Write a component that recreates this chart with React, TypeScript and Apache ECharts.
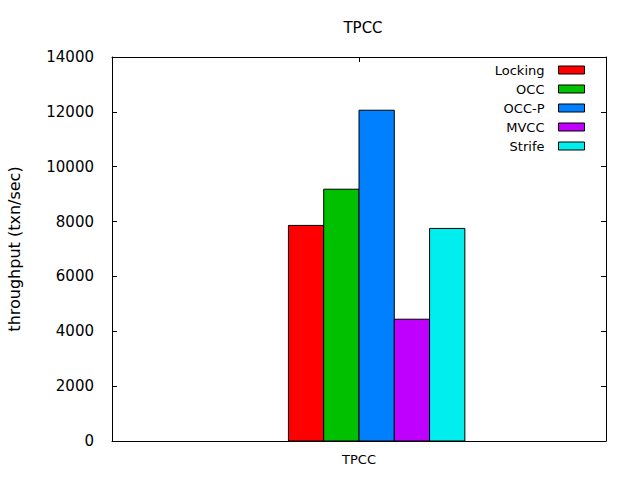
import React, { useEffect, useRef } from "react";
import * as echarts from "echarts";

const categories = ["TPCC"];
const seriesNames = ["Locking", "OCC", "OCC-P", "MVCC", "Strife"];
const seriesColors = ["#ff0000", "#00c000", "#0080ff", "#c000ff", "#00eeee"];
const lockingValues = [7860];
const occValues = [9180];
const occpValues = [12060];
const mvccValues = [4440];
const strifeValues = [7750];
const yTicks = [0, 2000, 4000, 6000, 8000, 10000, 12000, 14000];

const allValues = [lockingValues, occValues, occpValues, mvccValues, strifeValues];
const FONT = "DejaVu Sans";

export default function App() {
  const ref = useRef<HTMLDivElement>(null);
  useEffect(() => {
    if (!ref.current) return;
    const chart = echarts.init(ref.current, null, { renderer: "svg" });
    const n = seriesNames.length;
    const boxW = 1 / (n + 2);
    const series = seriesNames.map((name, j) => ({
      name,
      type: "custom",
      xAxisIndex: 0,
      yAxisIndex: 0,
      itemStyle: { color: seriesColors[j], borderColor: "#000", borderWidth: 1 },
      data: allValues[j].map((v, i) => [i + (j - 1.5) * boxW, v]),
      renderItem: (params: any, api: any) => {
        const x = api.value(0);
        const y = api.value(1);
        const p0 = api.coord([x - boxW / 2, y]);
        const p1 = api.coord([x + boxW / 2, 0]);
        return {
          type: "rect",
          shape: { x: p0[0], y: p0[1], width: p1[0] - p0[0], height: p1[1] - p0[1] },
          style: { fill: seriesColors[j], stroke: "#000", lineWidth: 1 },
        };
      },
    }));
    const axisCommon = {
      axisLine: { show: true, onZero: false, lineStyle: { color: "#000", width: 1 } },
      axisTick: { show: true, inside: true, length: 5, lineStyle: { color: "#000" } },
      splitLine: { show: false },
    };
    chart.setOption({
      animation: false,
      backgroundColor: "#fff",
      title: {
        text: "TPCC",
        left: 358,
        top: 15,
        textAlign: "center",
        textStyle: { fontFamily: FONT, fontSize: 15, fontWeight: "normal", color: "#000" },
      },
      legend: {
        data: seriesNames,
        orient: "vertical",
        right: 50,
        top: 58,
        align: "right",
        icon: "rect",
        itemWidth: 26,
        itemHeight: 8,
        itemGap: 5,
        itemStyle: { borderColor: "#000", borderWidth: 1 },
        textStyle: { fontFamily: FONT, fontSize: 13, color: "#000", lineHeight: 14, padding: [0, 9, 0, 0] },
      },
      grid: {
        left: 112,
        top: 57,
        width: 494,
        height: 384,
        containLabel: false,
        outerBoundsMode: "none",
      },
      xAxis: [
        {
          type: "value",
          min: -1,
          max: 1,
          interval: 1,
          position: "bottom",
          ...axisCommon,
          axisLabel: {
            show: true,
            margin: 12,
            formatter: (v: number) => (Math.abs(v) < 1e-9 ? categories[0] : ""),
            fontFamily: FONT,
            fontSize: 13,
            color: "#000",
          },
        },
        {
          type: "value",
          min: -1,
          max: 1,
          interval: 1,
          position: "top",
          ...axisCommon,
          axisLabel: { show: false },
        },
      ],
      yAxis: [
        {
          type: "value",
          min: yTicks[0],
          max: yTicks[yTicks.length - 1],
          interval: 2000,
          position: "left",
          ...axisCommon,
          name: "throughput (txn/sec)",
          nameLocation: "middle",
          nameGap: 90,
          nameTextStyle: { fontFamily: FONT, fontSize: 16, color: "#000" },
          axisLabel: {
            show: true,
            margin: 18,
            fontFamily: FONT,
            fontSize: 15,
            color: "#000",
            formatter: (v: number) => String(v),
          },
        },
        {
          type: "value",
          min: yTicks[0],
          max: yTicks[yTicks.length - 1],
          interval: 2000,
          position: "right",
          ...axisCommon,
          axisLabel: { show: false },
        },
      ],
      series,
    });
    return () => chart.dispose();
  }, []);
  return (
    <div
      ref={ref}
      style={{ position: "fixed", left: 0, top: 0, width: 640, height: 480, background: "#fff" }}
    />
  );
}
